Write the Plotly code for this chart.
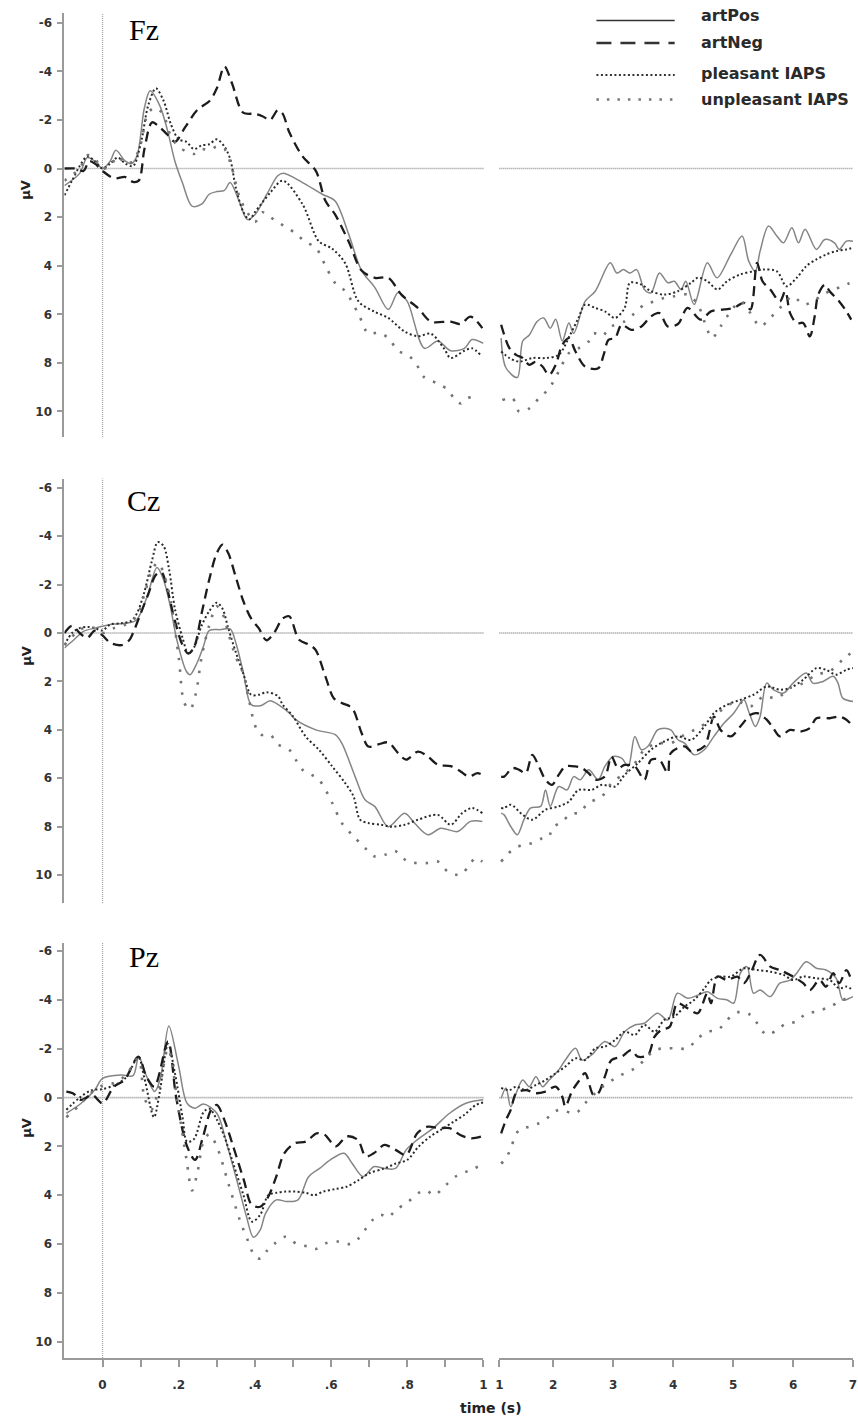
import numpy as np
import plotly.graph_objects as go

# ---------------- data (time in s, amplitude in microvolts) ----------------
# Fz
fz_pos_t = [-0.1, -0.06, -0.04, -0.02, 0.0, 0.02, 0.035, 0.06, 0.075, 0.09, 0.11, 0.125, 0.15, 0.17, 0.19, 0.21, 0.235, 0.26, 0.28, 0.30, 0.32, 0.335, 0.36, 0.38, 0.40, 0.43, 0.46, 0.475, 0.525, 0.577, 0.61, 0.646, 0.68, 0.715, 0.75, 0.776, 0.80, 0.845, 0.88, 0.914, 0.95, 0.97, 1.0,
            1.13, 1.21, 1.40, 1.49, 1.60, 1.73, 1.84, 1.95, 2.04, 2.15, 2.26, 2.34, 2.53, 2.70, 2.95, 3.06, 3.17, 3.28, 3.39, 3.52, 3.63, 3.77, 3.91, 4.02, 4.13, 4.21, 4.35, 4.57, 4.73, 4.96, 5.15, 5.26, 5.37, 5.45, 5.59, 5.73, 5.84, 5.98, 6.09, 6.20, 6.39, 6.53, 6.69, 6.77, 6.89, 7.0]
fz_pos_v = [0.7, 0.2, -0.45, -0.3, 0.0, -0.3, -0.75, -0.3, -0.2, -0.5, -2.5, -3.2, -2.6, -1.6, -0.3, 0.6, 1.55, 1.47, 1.06, 0.95, 0.9, 0.58, 1.4, 2.1, 1.9, 1.1, 0.3, 0.2, 0.58, 1.06, 1.33, 2.7, 4.2, 4.9, 5.8, 5.1, 5.47, 7.4, 7.1, 7.5, 7.4, 7.04, 7.2,
            6.98, 8.2, 8.6, 7.1, 6.85, 6.3, 6.15, 6.57, 6.2, 7.1, 6.36, 6.78, 5.47, 5.05, 3.88, 4.3, 4.16, 4.3, 4.16, 4.98, 5.12, 4.3, 4.7, 4.64, 4.98, 4.64, 5.6, 3.88, 4.5, 3.54, 2.78, 3.81, 4.23, 3.4, 2.37, 2.78, 3.06, 2.44, 3.06, 2.5, 3.33, 2.92, 3.06, 3.33, 2.99, 2.99]
fz_neg_t = [-0.1, -0.07, -0.05, -0.035, -0.02, 0.0, 0.03, 0.06, 0.08, 0.095, 0.11, 0.13, 0.15, 0.17, 0.19, 0.217, 0.248, 0.282, 0.30, 0.32, 0.34, 0.369, 0.40, 0.42, 0.44, 0.46, 0.473, 0.49, 0.525, 0.56, 0.585, 0.61, 0.646, 0.68, 0.715, 0.75, 0.785, 0.828, 0.862, 0.914, 0.94, 0.966, 0.997,
            1.13, 1.27, 1.38, 1.49, 1.60, 1.71, 1.82, 1.93, 2.04, 2.15, 2.26, 2.37, 2.53, 2.75, 2.84, 2.92, 3.03, 3.14, 3.30, 3.47, 3.63, 3.77, 3.91, 4.08, 4.24, 4.46, 4.63, 4.85, 5.01, 5.18, 5.29, 5.40, 5.49, 5.62, 5.78, 5.87, 5.95, 6.06, 6.17, 6.28, 6.36, 6.42, 6.53, 6.61, 6.77, 6.89, 6.97]
fz_neg_v = [0.0, 0.0, 0.1, -0.3, -0.2, 0.1, 0.4, 0.35, 0.55, 0.5, -0.8, -1.9, -1.7, -1.4, -1.1, -1.7, -2.4, -2.8, -3.3, -4.2, -3.5, -2.3, -2.25, -2.15, -2.0, -2.4, -2.25, -1.5, -0.5, 0.1, 1.33, 1.88, 3.0, 4.2, 4.5, 4.5, 5.2, 5.74, 6.3, 6.3, 6.4, 6.1, 6.57,
            6.43, 7.4, 7.67, 7.8, 8.08, 7.95, 8.15, 8.5, 8.08, 7.26, 6.98, 7.53, 8.15, 8.22, 7.67, 7.05, 6.98, 6.43, 6.64, 6.5, 6.09, 5.95, 6.5, 6.4, 5.74, 6.22, 5.88, 5.8, 5.74, 5.53, 5.8, 3.88, 4.64, 4.98, 5.47, 5.05, 5.95, 6.36, 6.36, 6.91, 6.09, 5.19, 4.78, 5.05, 5.47, 5.88, 6.22]
fz_ple_t = [-0.1, -0.08, -0.06, -0.04, -0.02, 0.0, 0.02, 0.04, 0.06, 0.08, 0.10, 0.12, 0.14, 0.16, 0.18, 0.20, 0.22, 0.24, 0.26, 0.28, 0.30, 0.32, 0.335, 0.35, 0.37, 0.385, 0.40, 0.44, 0.473, 0.525, 0.568, 0.603, 0.637, 0.672, 0.715, 0.75, 0.792, 0.828, 0.862, 0.896, 0.914, 0.95, 0.97, 0.992,
            1.13, 1.27, 1.43, 1.65, 1.87, 2.09, 2.28, 2.42, 2.53, 2.70, 2.86, 3.03, 3.19, 3.28, 3.47, 3.63, 3.85, 4.08, 4.30, 4.41, 4.57, 4.74, 4.90, 5.12, 5.34, 5.51, 5.73, 5.89, 6.06, 6.22, 6.39, 6.55, 6.72, 6.89, 7.0]
fz_ple_v = [1.1, 0.5, -0.1, -0.5, -0.3, 0.0, -0.2, -0.45, -0.2, -0.1, -1.0, -2.6, -3.3, -2.8, -1.8, -1.2, -1.1, -0.8, -0.95, -1.0, -1.2, -0.9, -0.4, 0.8, 1.8, 2.1, 1.8, 1.0, 0.5, 1.47, 3.0, 3.3, 3.9, 5.47, 5.9, 6.15, 6.7, 6.9, 6.8, 7.4, 7.8, 7.5, 7.4, 7.67,
            7.53, 7.8, 7.95, 7.8, 7.8, 7.67, 6.85, 6.15, 5.6, 5.74, 5.88, 6.15, 5.74, 4.7, 4.78, 5.05, 5.19, 5.05, 4.7, 4.5, 4.64, 4.98, 4.64, 4.36, 4.23, 4.16, 4.23, 4.85, 4.5, 4.02, 3.74, 3.54, 3.4, 3.33, 3.26]
fz_unp_t = [-0.1, -0.06, -0.04, -0.02, 0.0, 0.02, 0.04, 0.06, 0.08, 0.10, 0.12, 0.14, 0.16, 0.18, 0.20, 0.22, 0.24, 0.26, 0.28, 0.30, 0.32, 0.34, 0.36, 0.38, 0.40, 0.42, 0.44, 0.46, 0.48, 0.51, 0.53, 0.56, 0.585, 0.61, 0.637, 0.672, 0.698, 0.725, 0.75, 0.776, 0.80, 0.82, 0.845, 0.88, 0.906, 0.923, 0.94, 0.958, 0.984,
            1.15, 1.32, 1.43, 1.60, 1.76, 1.93, 2.09, 2.26, 2.42, 2.59, 2.67, 2.81, 2.97, 3.19, 3.36, 3.52, 3.69, 3.85, 4.02, 4.24, 4.41, 4.57, 4.65, 4.79, 4.96, 5.12, 5.29, 5.45, 5.62, 5.78, 6.0, 6.17, 6.33, 6.50, 6.67, 6.83, 7.0]
fz_unp_v = [0.5, 0.0, -0.55, -0.4, 0.0, -0.1, -0.5, -0.2, -0.3, -1.0, -2.3, -2.5, -2.2, -1.3, -0.9, -0.7, -0.6, -0.8, -0.75, -0.9, -0.8, 0.0, 1.2, 1.8, 2.2, 1.8, 2.0, 2.2, 2.4, 2.7, 3.0, 3.26, 4.0, 4.7, 5.05, 6.0, 6.8, 6.75, 6.98, 7.5, 7.67, 7.95, 8.6, 8.85, 9.1, 9.46, 9.67, 9.46, 9.3,
            9.53, 9.46, 10.0, 9.87, 9.46, 9.05, 8.36, 7.6, 7.4, 7.12, 6.78, 6.9, 6.5, 6.29, 5.95, 5.6, 5.47, 5.33, 5.26, 5.19, 5.6, 6.64, 6.98, 6.5, 5.88, 5.47, 5.95, 6.5, 6.15, 5.74, 5.26, 5.6, 5.47, 5.19, 4.98, 4.85, 4.64]

# Cz
cz_pos_t = [-0.1, -0.075, -0.05, -0.02, 0.0, 0.03, 0.065, 0.09, 0.117, 0.143, 0.16, 0.178, 0.195, 0.22, 0.23, 0.248, 0.265, 0.28, 0.31, 0.335, 0.35, 0.37, 0.39, 0.415, 0.44, 0.465, 0.49, 0.507, 0.56, 0.611, 0.628, 0.663, 0.689, 0.715, 0.75, 0.793, 0.819, 0.854, 0.888, 0.932, 0.966, 0.997,
            1.13, 1.18, 1.29, 1.40, 1.51, 1.62, 1.79, 1.87, 1.95, 2.09, 2.23, 2.34, 2.45, 2.59, 2.75, 2.86, 3.00, 3.14, 3.25, 3.36, 3.47, 3.58, 3.74, 3.85, 3.96, 4.08, 4.19, 4.35, 4.52, 4.68, 4.85, 5.01, 5.18, 5.26, 5.37, 5.45, 5.56, 5.67, 5.84, 6.0, 6.22, 6.33, 6.5, 6.67, 6.75, 6.83, 7.0]
cz_pos_v = [0.62, 0.28, -0.07, -0.2, -0.28, -0.37, -0.41, -0.55, -1.5, -2.7, -2.2, -1.1, 0.28, 1.58, 1.72, 1.24, 0.55, -0.1, -0.14, -0.17, 0.41, 1.65, 2.96, 3.0, 2.8, 3.0, 3.3, 3.58, 4.0, 4.2, 4.55, 5.93, 6.89, 7.17, 8.0, 7.44, 7.85, 8.33, 8.06, 8.2, 7.78, 7.78,
            7.44, 7.51, 7.99, 8.33, 7.71, 7.23, 7.16, 6.48, 7.16, 6.34, 6.48, 5.93, 6.06, 5.65, 6.06, 5.51, 5.1, 5.17, 5.51, 4.27, 4.82, 4.68, 4.0, 3.93, 4.0, 4.41, 4.55, 5.03, 4.82, 4.27, 3.72, 3.31, 2.76, 3.24, 3.86, 3.45, 2.07, 2.34, 2.48, 2.07, 1.65, 2.07, 2.0, 1.79, 2.07, 2.69, 2.83]
cz_neg_t = [-0.1, -0.08, -0.06, -0.04, -0.02, 0.0, 0.02, 0.05, 0.07, 0.08, 0.10, 0.12, 0.14, 0.155, 0.17, 0.19, 0.21, 0.225, 0.24, 0.26, 0.28, 0.30, 0.315, 0.33, 0.35, 0.37, 0.39, 0.41, 0.43, 0.45, 0.473, 0.49, 0.516, 0.542, 0.559, 0.585, 0.607, 0.628, 0.655, 0.68, 0.698, 0.724, 0.75, 0.776, 0.797, 0.828, 0.854, 0.88, 0.914, 0.94, 0.962, 0.984, 0.997,
            1.13, 1.18, 1.32, 1.43, 1.54, 1.65, 1.76, 1.87, 1.98, 2.09, 2.20, 2.37, 2.48, 2.59, 2.70, 2.86, 2.97, 3.08, 3.19, 3.36, 3.52, 3.63, 3.77, 3.91, 3.96, 4.19, 4.30, 4.52, 4.68, 4.79, 4.96, 5.12, 5.29, 5.40, 5.56, 5.67, 5.78, 5.95, 6.12, 6.28, 6.39, 6.61, 6.77, 6.89, 7.0]
cz_neg_v = [0.0, -0.3, 0.0, 0.2, -0.1, 0.1, 0.4, 0.5, 0.3, 0.0, -0.8, -1.6, -2.4, -2.5, -1.8, -0.5, 0.5, 0.85, 0.6, -0.8, -2.2, -3.3, -3.65, -3.3, -2.3, -1.3, -0.6, -0.2, 0.3, 0.0, -0.6, -0.69, 0.28, 0.48, 0.69, 1.79, 2.69, 2.89, 3.1, 4.13, 4.69, 4.6, 4.52, 4.96, 5.23, 4.9, 5.1, 5.44, 5.5, 5.72, 5.93, 5.79, 5.86,
            5.93, 5.93, 5.58, 5.65, 5.79, 5.03, 5.51, 6.06, 6.27, 5.86, 5.51, 5.51, 5.58, 5.79, 6.06, 5.93, 5.1, 5.58, 5.45, 5.51, 6.06, 5.24, 5.24, 5.79, 4.96, 4.68, 4.89, 4.68, 3.45, 4.0, 4.27, 3.86, 3.38, 3.31, 3.58, 3.93, 4.27, 4.0, 4.07, 3.93, 3.52, 3.52, 3.45, 3.58, 3.86]
cz_ple_t = [-0.1, -0.08, -0.06, -0.04, -0.02, 0.0, 0.02, 0.05, 0.075, 0.09, 0.11, 0.13, 0.145, 0.16, 0.175, 0.19, 0.21, 0.225, 0.24, 0.26, 0.28, 0.30, 0.315, 0.33, 0.35, 0.37, 0.39, 0.41, 0.43, 0.46, 0.473, 0.50, 0.533, 0.568, 0.603, 0.637, 0.659, 0.676, 0.698, 0.732, 0.758, 0.793, 0.828, 0.88, 0.914, 0.944, 0.97, 0.997,
            1.13, 1.18, 1.29, 1.49, 1.65, 1.87, 2.09, 2.26, 2.42, 2.64, 2.81, 3.03, 3.19, 3.41, 3.63, 3.85, 4.08, 4.30, 4.52, 4.68, 4.90, 5.12, 5.34, 5.56, 5.78, 5.95, 6.17, 6.39, 6.55, 6.72, 6.89, 7.0]
cz_ple_v = [0.5, 0.0, -0.2, -0.25, -0.2, -0.1, -0.35, -0.4, -0.5, -0.8, -1.7, -3.0, -3.75, -3.6, -2.6, -1.0, 0.2, 0.83, 0.6, -0.3, -0.9, -1.25, -1.0, -0.2, 0.8, 1.7, 2.55, 2.55, 2.45, 2.6, 2.96, 3.44, 4.27, 4.82, 5.51, 6.2, 6.75, 7.71, 7.85, 7.92, 8.0, 7.92, 7.71, 7.51, 7.92, 7.44, 7.23, 7.44,
            7.23, 7.23, 7.09, 7.51, 7.71, 7.3, 7.16, 6.96, 6.48, 6.48, 6.27, 6.34, 5.86, 5.38, 4.82, 4.48, 4.27, 4.41, 3.86, 3.31, 2.96, 2.76, 2.55, 2.21, 2.34, 2.27, 1.93, 1.45, 1.52, 1.72, 1.52, 1.45]
cz_unp_t = [-0.1, -0.07, -0.05, -0.02, 0.0, 0.03, 0.06, 0.09, 0.11, 0.13, 0.145, 0.16, 0.18, 0.20, 0.215, 0.23, 0.245, 0.26, 0.28, 0.30, 0.315, 0.33, 0.35, 0.37, 0.385, 0.40, 0.415, 0.44, 0.46, 0.49, 0.507, 0.525, 0.568, 0.603, 0.628, 0.655, 0.689, 0.715, 0.741, 0.767, 0.801, 0.828, 0.854, 0.88, 0.906, 0.94, 0.962, 0.979, 0.997,
            1.13, 1.18, 1.32, 1.49, 1.65, 1.82, 1.93, 1.98, 2.15, 2.31, 2.42, 2.59, 2.81, 2.97, 3.19, 3.36, 3.52, 3.74, 3.96, 4.19, 4.41, 4.63, 4.85, 5.07, 5.29, 5.51, 5.73, 5.95, 6.17, 6.39, 6.61, 6.83, 7.0]
cz_unp_v = [0.5, 0.0, -0.2, -0.2, 0.0, -0.2, -0.35, -0.7, -1.6, -2.6, -2.9, -2.5, -1.2, 1.0, 2.9, 3.15, 2.5, 1.0, -0.3, -1.1, -0.8, 0.0, 1.0, 1.7, 2.8, 3.8, 4.2, 4.2, 4.6, 4.82, 5.23, 5.65, 6.06, 7.02, 7.85, 8.33, 8.88, 9.23, 9.16, 9.0, 9.44, 9.5, 9.5, 9.44, 9.85, 9.99, 9.6, 9.3, 9.44,
            9.44, 9.3, 8.95, 8.75, 8.68, 8.47, 8.4, 8.06, 7.78, 7.44, 7.44, 7.02, 6.75, 6.2, 5.79, 5.38, 4.82, 4.55, 4.55, 4.2, 3.93, 3.58, 3.1, 2.83, 3.03, 2.62, 2.69, 2.27, 2.07, 1.72, 1.58, 1.1, 0.76]

# Pz
pz_pos_t = [-0.095, -0.056, -0.02, 0.0, 0.05, 0.08, 0.095, 0.115, 0.137, 0.152, 0.174, 0.2, 0.222, 0.243, 0.265, 0.30, 0.328, 0.357, 0.378, 0.396, 0.414, 0.428, 0.456, 0.484, 0.513, 0.541, 0.57, 0.598, 0.634, 0.655, 0.684, 0.712, 0.74, 0.769, 0.797, 0.826, 0.868, 0.911, 0.954, 1.0,
            1.13, 1.21, 1.29, 1.38, 1.49, 1.60, 1.71, 1.82, 1.93, 2.09, 2.20, 2.37, 2.48, 2.64, 2.86, 3.03, 3.19, 3.36, 3.52, 3.74, 3.91, 4.07, 4.24, 4.41, 4.57, 4.74, 4.90, 5.01, 5.12, 5.23, 5.34, 5.45, 5.62, 5.78, 5.95, 6.06, 6.22, 6.39, 6.55, 6.72, 6.83, 6.94, 7.0]
pz_pos_v = [0.64, 0.23, -0.32, -0.79, -0.93, -0.9, -1.68, -0.9, -0.25, -0.8, -2.94, -1.27, 0.23, 0.43, 0.26, 0.64, 2.0, 3.65, 4.88, 5.72, 5.42, 4.74, 4.19, 4.26, 4.19, 3.24, 2.9, 2.55, 2.28, 2.69, 3.24, 2.83, 2.9, 2.9, 2.14, 1.73, 1.25, 0.64, 0.23, 0.09,
            0.03, -0.4, 0.37, -0.18, -0.72, -0.45, -0.86, -0.45, -0.72, -1.13, -1.54, -2.02, -1.54, -1.75, -2.3, -2.09, -2.7, -2.98, -3.05, -3.46, -3.18, -4.28, -4.07, -4.2, -4.34, -4.07, -4.0, -3.87, -5.1, -5.37, -4.28, -4.41, -4.14, -4.69, -4.82, -5.1, -5.57, -5.3, -5.23, -4.89, -4.0, -4.07, -4.14]
pz_neg_t = [-0.095, -0.078, -0.056, -0.027, 0.0, 0.03, 0.058, 0.094, 0.115, 0.136, 0.172, 0.193, 0.222, 0.243, 0.264, 0.285, 0.30, 0.32, 0.343, 0.371, 0.392, 0.414, 0.435, 0.456, 0.477, 0.505, 0.534, 0.562, 0.584, 0.612, 0.641, 0.67, 0.691, 0.712, 0.74, 0.769, 0.797, 0.826, 0.854, 0.882, 0.911, 0.939, 0.968, 0.996,
            1.13, 1.21, 1.29, 1.38, 1.54, 1.71, 1.87, 2.04, 2.15, 2.20, 2.31, 2.42, 2.53, 2.67, 2.75, 2.86, 2.97, 3.14, 3.30, 3.41, 3.58, 3.69, 3.80, 3.94, 4.07, 4.24, 4.41, 4.57, 4.63, 4.74, 4.90, 5.07, 5.18, 5.29, 5.45, 5.62, 5.78, 6.0, 6.17, 6.28, 6.44, 6.55, 6.67, 6.77, 6.89, 6.97]
pz_neg_v = [-0.25, -0.18, 0.09, -0.11, 0.23, -0.45, -0.73, -1.68, -0.86, -0.45, -2.3, -0.04, 2.0, 2.55, 1.59, 0.5, 0.3, 0.92, 2.0, 3.38, 4.4, 4.47, 4.06, 3.24, 2.28, 1.87, 1.8, 1.46, 1.53, 2.0, 1.59, 1.73, 2.41, 2.28, 1.94, 2.14, 2.35, 1.46, 1.19, 1.25, 1.25, 1.53, 1.67, 1.59,
            1.46, 0.92, 0.5, -0.18, -0.31, -0.18, -0.25, -0.45, -0.04, 0.37, -0.25, -0.66, -1.0, -0.11, -0.18, -0.86, -1.54, -1.68, -1.95, -1.68, -1.75, -2.5, -2.77, -2.9, -3.87, -3.66, -3.46, -4.28, -3.87, -4.96, -4.82, -4.96, -4.69, -5.1, -5.85, -5.37, -5.23, -4.96, -4.69, -4.41, -4.82, -4.55, -5.1, -4.69, -5.23, -4.82]
pz_ple_t = [-0.095, -0.06, -0.03, 0.0, 0.03, 0.06, 0.094, 0.11, 0.135, 0.15, 0.172, 0.19, 0.21, 0.222, 0.24, 0.265, 0.28, 0.30, 0.32, 0.343, 0.37, 0.392, 0.414, 0.435, 0.456, 0.48, 0.505, 0.534, 0.555, 0.58, 0.61, 0.64, 0.67, 0.70, 0.74, 0.77, 0.80, 0.83, 0.86, 0.89, 0.92, 0.95, 0.98, 1.0,
            1.13, 1.27, 1.38, 1.54, 1.71, 1.87, 2.04, 2.20, 2.37, 2.53, 2.70, 2.86, 3.03, 3.19, 3.36, 3.52, 3.69, 3.85, 4.02, 4.19, 4.35, 4.52, 4.63, 4.79, 4.96, 5.18, 5.40, 5.62, 5.84, 6.0, 6.17, 6.39, 6.61, 6.77, 6.89, 7.0]
pz_ple_v = [0.5, 0.0, -0.3, -0.35, -0.5, -0.8, -1.65, -0.8, 0.8, -0.2, -2.2, -1.0, 0.8, 1.8, 1.7, 0.6, 0.45, 0.9, 1.6, 2.7, 4.0, 5.08, 4.8, 4.0, 3.9, 3.85, 3.85, 3.9, 4.0, 3.85, 3.75, 3.65, 3.4, 3.1, 2.9, 2.7, 2.55, 2.0, 1.6, 1.3, 1.0, 0.7, 0.3, 0.2,
            -0.4, -0.31, -0.45, -0.31, -0.52, -0.72, -1.0, -1.27, -1.61, -1.54, -2.02, -2.09, -2.36, -2.7, -2.57, -2.98, -2.7, -3.18, -3.32, -3.73, -4.0, -4.48, -4.82, -4.96, -4.96, -5.3, -5.23, -5.16, -5.03, -4.82, -4.96, -4.89, -4.82, -4.48, -4.55, -4.41]
pz_unp_t = [-0.095, -0.06, -0.03, 0.0, 0.03, 0.06, 0.094, 0.11, 0.128, 0.15, 0.172, 0.20, 0.22, 0.235, 0.25, 0.265, 0.28, 0.30, 0.33, 0.36, 0.38, 0.40, 0.415, 0.43, 0.45, 0.48, 0.51, 0.54, 0.56, 0.59, 0.62, 0.65, 0.67, 0.69, 0.71, 0.73, 0.75, 0.77, 0.80, 0.83, 0.85, 0.87, 0.90, 0.93, 0.96, 0.99,
            1.13, 1.21, 1.27, 1.43, 1.60, 1.76, 1.93, 2.09, 2.37, 2.53, 2.70, 2.86, 3.03, 3.19, 3.36, 3.52, 3.69, 3.85, 4.07, 4.24, 4.41, 4.57, 4.74, 4.96, 5.12, 5.29, 5.40, 5.56, 5.73, 5.89, 6.06, 6.22, 6.39, 6.61, 6.83, 7.0]
pz_unp_v = [0.8, 0.3, -0.2, -0.5, -0.6, -0.9, -1.6, 0.0, 0.5, -0.5, -2.0, 0.5, 2.5, 3.8, 3.0, 1.8, 1.5, 2.0, 3.5, 5.0, 5.8, 6.5, 6.6, 6.3, 6.0, 5.7, 6.0, 6.1, 6.2, 5.95, 5.9, 6.0, 5.8, 5.4, 5.0, 4.8, 4.9, 4.6, 4.3, 3.9, 3.8, 4.0, 3.6, 3.2, 3.0, 2.8,
            2.7, 2.5, 2.2, 1.32, 1.19, 1.05, 0.78, 0.5, 0.64, 0.23, -0.18, -0.52, -0.79, -1.0, -1.2, -1.54, -1.95, -2.02, -2.02, -2.02, -2.43, -2.7, -2.77, -3.32, -3.52, -3.39, -3.05, -2.57, -2.77, -3.05, -3.11, -3.46, -3.52, -3.73, -4.0, -4.2]

panel_names = ["Fz", "Cz", "Pz"]
series_names = ["artPos", "artNeg", "pleasant IAPS", "unpleasant IAPS"]
y_tick_vals = [-6, -4, -2, 0, 2, 4, 6, 8, 10]
y_tick_text = ["-6", "-4", "-2", "0", "2", "4", "6", "8", "10"]
x_left_ticks = [0, 0.1, 0.2, 0.3, 0.4, 0.5, 0.6, 0.7, 0.8, 0.9, 1.0]
x_left_text = ["0", "", ".2", "", ".4", "", ".6", "", ".8", "", "1"]
x_right_ticks = [1.1, 2, 3, 4, 5, 6, 7]
x_right_text = ["1", "2", "3", "4", "5", "6", "7"]

panels = [
    [(fz_pos_t, fz_pos_v), (fz_neg_t, fz_neg_v), (fz_ple_t, fz_ple_v), (fz_unp_t, fz_unp_v)],
    [(cz_pos_t, cz_pos_v), (cz_neg_t, cz_neg_v), (cz_ple_t, cz_ple_v), (cz_unp_t, cz_unp_v)],
    [(pz_pos_t, pz_pos_v), (pz_neg_t, pz_neg_v), (pz_ple_t, pz_ple_v), (pz_unp_t, pz_unp_v)],
]

# ---------------- styling / layout ----------------
W, H = 858, 1425
styles = [
    dict(color="#858585", width=1.5, dash="solid"),
    dict(color="#1c1c1c", width=2.3, dash="10px,6px"),
    dict(color="#2a2a2a", width=2.0, dash="2px,2.5px"),
    dict(color="#747474", width=2.6, dash="2.5px,9px"),
]
legend_styles = [
    dict(color="#333333", width=1.6, dash="solid"),
    dict(color="#333333", width=2.6, dash="15px,9px"),
    dict(color="#333333", width=2.0, dash="2px,2.5px"),
    dict(color="#777777", width=2.4, dash="2.5px,8px"),
]

def py(p):
    return 1 - p / H

def px(p):
    return p / W

# pixel extents of each panel's y axis, and its value range
y_pix = [(13, 437), (478.5, 903), (942.7, 1358)]
y_rng = [[11.05, -6.4], [11.15, -6.38], [10.67, -6.35]]
xl_dom = [px(61), px(484)]
xr_dom = [px(500), px(857)]

tick_font = dict(family="DejaVu Sans", size=12, color="#333333", weight="bold")
axis_grey = "#9a9a9a"

fig = go.Figure()
layout = dict(width=W, height=H, margin=dict(l=0, r=0, t=0, b=0),
              plot_bgcolor="white", paper_bgcolor="white", showlegend=False)
shapes = []
annotations = []

for i, series in enumerate(panels):
    xl, xr = 2 * i + 1, 2 * i + 2
    xl_n = "x" if xl == 1 else f"x{xl}"
    yl_n = "y" if xl == 1 else f"y{xl}"
    xr_n, yr_n = f"x{xr}", f"y{xr}"
    for k, (tt, vv) in enumerate(series):
        t = np.array(tt)
        v = np.array(vv)
        m_l = t <= 1.0
        m_r = t > 1.0
        for mask, xa, ya in ((m_l, xl_n, yl_n), (m_r, xr_n, yr_n)):
            fig.add_trace(go.Scatter(x=t[mask], y=v[mask], xaxis=xa, yaxis=ya, mode="lines",
                                     name=series_names[k], line=dict(**styles[k], shape="spline", smoothing=0.9),
                                     hoverinfo="skip"))
    dom_y = [py(y_pix[i][1]), py(y_pix[i][0])]
    bottom = (i == 2)
    xaxis_common = dict(showgrid=False, zeroline=False)
    left_x = dict(domain=xl_dom, range=[-0.1, 1.0], anchor=yl_n, **xaxis_common)
    right_x = dict(domain=xr_dom, range=[1.1, 7.0], anchor=yr_n, **xaxis_common)
    if bottom:
        for ax, tv, tx in ((left_x, x_left_ticks, x_left_text), (right_x, x_right_ticks, x_right_text)):
            ax.update(showline=True, linecolor=axis_grey, linewidth=2, ticks="outside", ticklen=7,
                      tickwidth=1.5, tickcolor=axis_grey, tickvals=tv, ticktext=tx, tickfont=tick_font,
                      ticklabelstandoff=8)
    else:
        left_x.update(visible=False)
        right_x.update(visible=False)
    layout["xaxis" if xl == 1 else f"xaxis{xl}"] = left_x
    layout[f"xaxis{xr}"] = right_x
    layout["yaxis" if xl == 1 else f"yaxis{xl}"] = dict(
        domain=dom_y, range=y_rng[i], anchor=xl_n, showgrid=False, zeroline=False,
        showline=True, linecolor=axis_grey, linewidth=2, ticks="outside", ticklen=5,
        tickwidth=1.5, tickcolor=axis_grey, tickvals=y_tick_vals, ticktext=y_tick_text,
        tickfont=tick_font, ticklabelstandoff=3)
    layout[f"yaxis{xr}"] = dict(domain=dom_y, range=y_rng[i], anchor=xr_n, visible=False)

    # zero reference lines
    for xa, ya in ((xl_n, yl_n), (xr_n, yr_n)):
        shapes.append(dict(type="line", xref=f"{xa} domain", x0=0, x1=1, yref=ya, y0=0, y1=0,
                           line=dict(color="#8f8f8f", width=1.6, dash="1px,1px"), layer="below"))
    shapes.append(dict(type="line", xref=xl_n, x0=0, x1=0, yref=f"{yl_n} domain", y0=0, y1=1,
                       line=dict(color="#a5a5a5", width=1.2, dash="1px,1px"), layer="below"))

    # panel label and unit label
    label_y = [30, 500, 956][i]
    annotations.append(dict(text=panel_names[i], xref="paper", yref="paper", x=px(141), y=py(label_y),
                            xanchor="center", yanchor="middle", showarrow=False,
                            font=dict(family="Liberation Serif", size=30, color="black")))
    uv_y = [190, 656, 1128][i]
    annotations.append(dict(text="μV", xref="paper", yref="paper", x=px(22), y=py(uv_y),
                            xanchor="center", yanchor="middle", textangle=-90, showarrow=False,
                            font=dict(family="DejaVu Sans", size=13, color="#222222", weight="bold")))

annotations.append(dict(text="time (s)", xref="paper", yref="paper", x=px(492), y=py(1408),
                        xanchor="center", yanchor="middle", showarrow=False,
                        font=dict(family="DejaVu Sans", size=14, color="#222222", weight="bold")))

# legend drawn manually (long line samples as in the original)
leg_line_y = [20.5, 43, 75, 99.5]
leg_text_y = [15, 42, 74, 99]
for k in range(4):
    shapes.append(dict(type="line", xref="paper", yref="paper", x0=px(598), x1=px(677),
                       y0=py(leg_line_y[k]), y1=py(leg_line_y[k]), line=legend_styles[k]))
    annotations.append(dict(text=series_names[k], xref="paper", yref="paper", x=px(702), y=py(leg_text_y[k]),
                            xanchor="left", yanchor="middle", showarrow=False,
                            font=dict(family="DejaVu Sans", size=16, color="#2a2a2a", weight="bold")))

layout["shapes"] = shapes
layout["annotations"] = annotations
fig.update_layout(**layout)
fig.write_html("out.html")
